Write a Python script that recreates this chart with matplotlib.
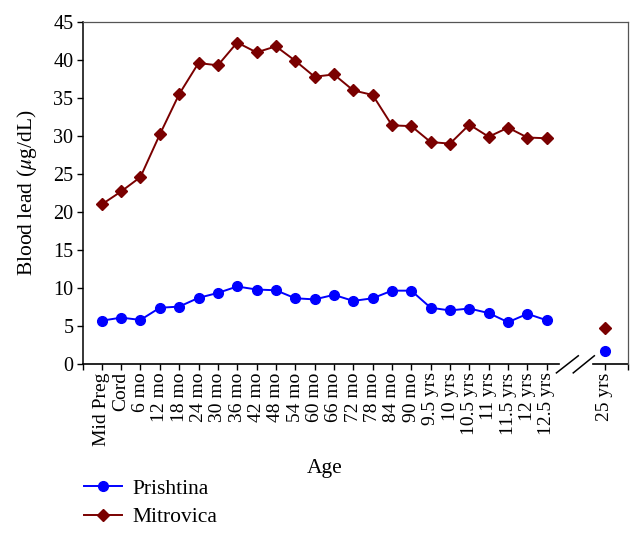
import matplotlib.pyplot as plt
from matplotlib.lines import Line2D

plt.rcParams["font.family"] = ["Liberation Serif", "DejaVu Serif"]
plt.rcParams["mathtext.fontset"] = "stix"

ages = ["Mid Preg", "Cord", "6 mo", "12 mo", "18 mo", "24 mo", "30 mo", "36 mo",
        "42 mo", "48 mo", "54 mo", "60 mo", "66 mo", "72 mo", "78 mo", "84 mo",
        "90 mo", "9.5 yrs", "10 yrs", "10.5 yrs", "11 yrs", "11.5 yrs", "12 yrs",
        "12.5 yrs"]
late_age = "25 yrs"

prishtina = [5.7, 6.1, 5.8, 7.4, 7.55, 8.7, 9.35, 10.2, 9.8, 9.7, 8.65, 8.5,
             9.1, 8.3, 8.65, 9.65, 9.65, 7.4, 7.05, 7.3, 6.7, 5.5, 6.6, 5.75]
mitrovica = [21.0, 22.7, 24.6, 30.2, 35.5, 39.6, 39.3, 42.3, 41.0, 41.8, 39.9,
             37.8, 38.1, 36.0, 35.4, 31.4, 31.3, 29.2, 29.0, 31.5, 29.9, 31.1,
             29.8, 29.7]
prishtina_late = 1.67
mitrovica_late = 4.8

BLUE = "#0000ff"
RED = "#7a0000"

fig = plt.figure(figsize=(6.43, 5.39), dpi=100)
ax = fig.add_axes([83 / 643, 1 - 364 / 539, (628 - 83) / 643, (364 - 22) / 539])

x = list(range(len(ages)))
x_late = len(ages) + 2
ax.plot(x, prishtina, color=BLUE, marker="o", markersize=7, lw=1.4, clip_on=False)
ax.plot(x, mitrovica, color=RED, marker="D", markersize=6.6, lw=1.4, clip_on=False)
ax.plot([x_late], [prishtina_late], color=BLUE, marker="o", markersize=7, ls="none")
ax.plot([x_late], [mitrovica_late], color=RED, marker="D", markersize=6.6, ls="none")

x_left, x_right = -0.97, 27.2
ax.set_xlim(x_left, x_right)
ax.set_ylim(0, 45)
ax.set_yticks(range(0, 46, 5))
ax.tick_params(axis="y", labelsize=14.5, direction="out", length=4, width=1, pad=3)
ticks = [x_left] + x + [x_late, x_right]
labels = [""] + ages + [late_age, ""]
ax.set_xticks(ticks)
ax.set_xticklabels(labels, rotation=90, fontsize=14)
ax.tick_params(axis="x", direction="out", length=4, width=1, pad=2)

ax.set_ylabel(r"Blood lead ($\mu$g/dL)", fontsize=15.5, labelpad=10)

for side in ("top", "right"):
    ax.spines[side].set_color("#555555")
    ax.spines[side].set_linewidth(0.9)
ax.spines["left"].set_linewidth(1.1)
ax.spines["bottom"].set_visible(False)


def xfrac(v):
    return (v - x_left) / (x_right - x_left)


# broken bottom axis
ta = ax.transAxes
ax.add_line(Line2D([0, xfrac(23.63)], [0, 0], color="black", lw=1.2, transform=ta, clip_on=False))
ax.add_line(Line2D([xfrac(25.4), 1], [0, 0], color="black", lw=1.2, transform=ta, clip_on=False))
ax.add_line(Line2D([xfrac(23.5), xfrac(24.63)], [-0.026, 0.024], color="black", lw=1.1,
                   transform=ta, clip_on=False))
ax.add_line(Line2D([xfrac(24.37), xfrac(25.46)], [-0.026, 0.024], color="black", lw=1.1,
                   transform=ta, clip_on=False))

fig.text(325 / 643, 1 - 469 / 539, "Age", ha="center", va="center", fontsize=15.5)

handles = [
    Line2D([], [], color=BLUE, marker="o", markersize=7, lw=1.4),
    Line2D([], [], color=RED, marker="D", markersize=6.6, lw=1.4),
]
fig.legend(handles, ["Prishtina", "Mitrovica"], loc="center left",
           bbox_to_anchor=(65 / 643, 1 - 503 / 539), frameon=False, fontsize=15.5,
           handlelength=1.75, handletextpad=0.5, labelspacing=0.4)

fig.savefig("out.png", dpi=100)
